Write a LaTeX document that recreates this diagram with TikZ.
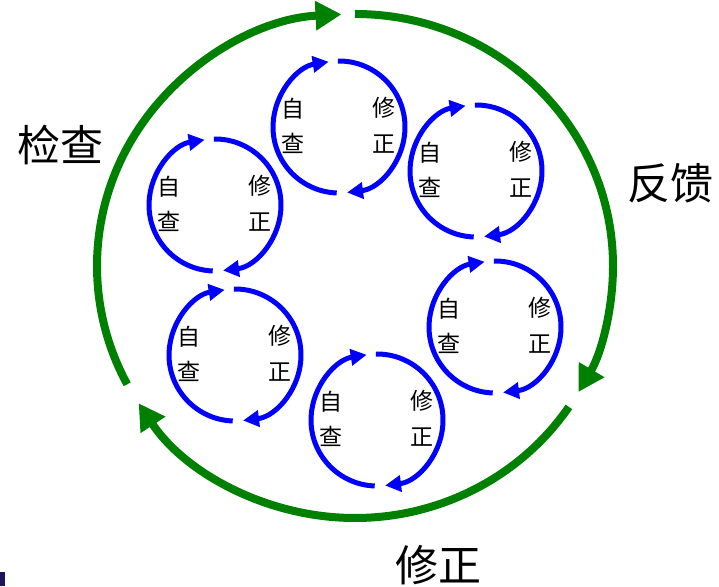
\documentclass[tikz,border=0pt]{standalone}
\usepackage{fontspec}
\newfontfamily\cjk{Noto Sans CJK SC}
\usetikzlibrary{arrows.meta}
\definecolor{loopgreen}{RGB}{0,128,0}
\definecolor{corner}{RGB}{30,20,90}

\begin{document}
\begin{tikzpicture}[x=1pt,y=1pt,
  outer/.style={draw=loopgreen,line width=8pt,-{Triangle[length=26pt,width=28pt]}},
  inner/.style={draw=blue,line width=5pt,-{Triangle[length=16pt,width=16pt]}},
  big/.style={font=\cjk\fontsize{43}{43}\selectfont},
  word/.style={font=\cjk\fontsize{23}{23}\selectfont}]
\useasboundingbox (0,0) rectangle (719,586);
\fill[corner] (0,0) rectangle (5,14);
% big loop
\coordinate (C) at (355,320);
\draw[outer] (C) ++(208:258 and 252) arc[start angle=208,end angle=93,x radius=258,y radius=252];
\draw[outer] (C) ++(90:258 and 252) arc[start angle=90,end angle=-30,x radius=258,y radius=252];
\draw[outer] (C) ++(-34:258 and 252) arc[start angle=-34,end angle=-147,x radius=258,y radius=252];
\node[big] (check) at (60,441) {检查};
\node[big] (feed) at (670,403) {反馈};
\node[big] (fix) at (438,21) {修正};
% small loops
\foreach \n/\x/\y in {a/339/459,b/476/415,c/495/259,d/377/166,e/235/231,f/215/381} {
  \coordinate (\n) at (\x,\y);
  \draw[inner] (\n) ++(268:66) arc[start angle=268,end angle=99,radius=66];
  \draw[inner] (\n) ++(91:66) arc[start angle=91,end angle=-83,radius=66];
  \node[word] (\n-zi) at ([shift={(-46,18)}]\n) {自};
  \node[word] (\n-cha) at ([shift={(-46,-16)}]\n) {查};
  \node[word] (\n-xiu) at ([shift={(45,19)}]\n) {修};
  \node[word] (\n-zheng) at ([shift={(45,-17)}]\n) {正};
}
\end{tikzpicture}
\end{document}
